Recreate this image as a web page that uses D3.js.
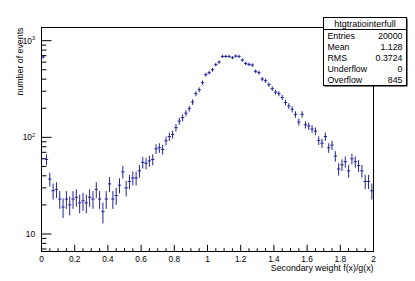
<!DOCTYPE html>
<html>
<head>
<meta charset="utf-8">
<script src="https://cdn.jsdelivr.net/npm/d3@7"></script>
<style>
  body { margin: 0; background: #fff; }
  svg { display: block; font-family: "Liberation Sans", Arial, sans-serif; }
</style>
</head>
<body>
<svg width="415" height="281"></svg>
<script>
// histogram: 100 bins from 0 to 2
const xMin = 0, xMax = 2;
const counts = [
  680, 59, 37, 28, 29, 23, 19, 23, 20, 23,
  24, 21, 22, 21, 24, 23, 29, 23, 17, 23,
  33, 23, 25, 32, 44, 30, 35, 38, 38, 45,
  55, 54, 57, 59, 76, 78, 75, 92, 102, 107,
  126, 147, 160, 178, 198, 232, 283, 311, 368, 445,
  467, 501, 565, 601, 688, 688, 688, 667, 693, 688,
  630, 582, 569, 560, 482, 467, 401, 385, 351, 319,
  294, 283, 258, 229, 211, 195, 173, 144, 173, 135,
  131, 122, 116, 93, 87, 102, 78, 83, 64, 47,
  52, 56, 45, 60, 56, 51, 45, 35, 35, 28
];
const xTicks = [0, 0.2, 0.4, 0.6, 0.8, 1, 1.2, 1.4, 1.6, 1.8, 2];
const yDecades = [10, 100, 1000];
const yExponents = ["", "2", "3"];
const statNames = ["Entries", "Mean", "RMS", "Underflow", "Overflow"];
const statValues = ["20000", "1.128", "0.3724", "0", "845"];

const svg = d3.select("svg");
const fLeft = 41.5, fRight = 373.5, fTop = 27.5, fBottom = 251.5;
const col = "#23239c";

let x = d3.scaleLinear().domain([xMin, xMax]).range([fLeft, fRight]);
let y = d3.scaleLog().domain([6.59, 1369]).range([fBottom, fTop]);
const bw = (xMax - xMin) / counts.length;

let bins = counts.map((c, i) => ({lo: xMin + i * bw, hi: xMin + (i + 1) * bw, c: c}))
  .filter(d => d.c > 0);

// frame
svg.append("rect")
  .attr("x", fLeft).attr("y", fTop)
  .attr("width", fRight - fLeft).attr("height", fBottom - fTop)
  .attr("fill", "none").attr("stroke", "#000").attr("stroke-width", 1);

// x ticks (inside, pointing up)
let xMinor = d3.range(0, 41).map(k => k * 0.05);
svg.append("g").selectAll("line")
  .data(xMinor).enter().append("line")
  .attr("x1", d => x(d)).attr("x2", d => x(d))
  .attr("y1", fBottom)
  .attr("y2", (d, i) => i % 4 === 0 ? fBottom - 6.7 : fBottom - 3.3)
  .attr("stroke", "#000");

svg.append("g").selectAll("text")
  .data(xTicks).enter().append("text")
  .attr("x", d => x(d)).attr("y", 261.5)
  .attr("text-anchor", "middle")
  .attr("font-size", 8.3)
  .text(d => d3.format("")(d));

// y ticks (inside, pointing right)
let yMinor = [];
[1, 10, 100, 1000].forEach(p => {
  for (let m = 1; m < 10; m++) {
    let v = m * p;
    if (v >= 6.59 && v <= 1369) yMinor.push({v: v, major: m === 1});
  }
});
svg.append("g").selectAll("line")
  .data(yMinor).enter().append("line")
  .attr("x1", fLeft).attr("x2", d => d.major ? fLeft + 10 : fLeft + 5)
  .attr("y1", d => y(d.v)).attr("y2", d => y(d.v))
  .attr("stroke", "#000");

let yl = svg.append("g").selectAll("text")
  .data(yDecades).enter().append("text")
  .attr("x", 35).attr("y", d => y(d) + 3)
  .attr("text-anchor", "end")
  .attr("font-size", 8.3);
yl.append("tspan").text("10");
yl.append("tspan")
  .attr("font-size", 5.5).attr("dy", -3.5)
  .text((d, i) => yExponents[i]);

// axis titles
svg.append("text")
  .attr("x", fRight).attr("y", 270.5)
  .attr("text-anchor", "end").attr("font-size", 8.8)
  .text("Secondary weight f(x)/g(x)");

svg.append("text")
  .attr("transform", "translate(23," + fTop + ") rotate(-90)")
  .attr("text-anchor", "end").attr("font-size", 8.8)
  .text("number of events");

// data: error bars and bin-width markers
let g = svg.append("g").attr("stroke", col).attr("stroke-width", 1);
g.selectAll(".ev").data(bins).enter().append("line")
  .attr("x1", d => x((d.lo + d.hi) / 2)).attr("x2", d => x((d.lo + d.hi) / 2))
  .attr("y1", d => y(d.c + Math.sqrt(d.c)))
  .attr("y2", d => y(Math.max(d.c - Math.sqrt(d.c), 6.59)));
g.selectAll(".eh").data(bins).enter().append("line")
  .attr("x1", d => x(d.lo)).attr("x2", d => x(d.hi))
  .attr("y1", d => y(d.c)).attr("y2", d => y(d.c));

// stats box
const bx = 323.5, by = 17.5, bwid = 83, bht = 68;
svg.append("rect")
  .attr("x", bx + 1).attr("y", by + 1).attr("width", bwid).attr("height", bht)
  .attr("fill", "#000");
svg.append("rect")
  .attr("x", bx).attr("y", by).attr("width", bwid).attr("height", bht)
  .attr("fill", "#fff").attr("stroke", "#000");
svg.append("line")
  .attr("x1", bx).attr("x2", bx + bwid).attr("y1", 29.5).attr("y2", 29.5)
  .attr("stroke", "#000");
svg.append("text")
  .attr("x", bx + bwid / 2).attr("y", 26.5)
  .attr("text-anchor", "middle").attr("font-size", 9)
  .text("htgtratiointerfull");
svg.append("g").selectAll("text")
  .data(statNames).enter().append("text")
  .attr("x", 327.5).attr("y", (d, i) => 38.8 + i * 11)
  .attr("font-size", 8.8).text(d => d);
svg.append("g").selectAll("text")
  .data(statValues).enter().append("text")
  .attr("x", 402.5).attr("y", (d, i) => 38.8 + i * 11)
  .attr("text-anchor", "end").attr("font-size", 8.8).text(d => d);
</script>
</body>
</html>
